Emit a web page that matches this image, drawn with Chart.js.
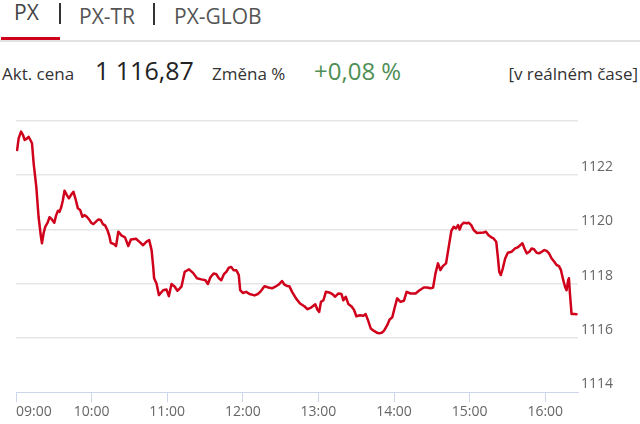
<!DOCTYPE html>
<html>
<head>
<meta charset="utf-8">
<script src="https://cdn.jsdelivr.net/npm/chart.js@4/dist/chart.umd.min.js"></script>
<style>
  html, body { margin: 0; padding: 0; background: #fff; }
  body { width: 640px; height: 424px; position: relative; overflow: hidden; font-family: "Open Sans", sans-serif; }
  .t { position: absolute; white-space: nowrap; line-height: 1; }
  .tab { font-size: 21px; color: #555; }
  .sep { position: absolute; width: 1.5px; background: #333; }
  #chartWrap { position: absolute; left: 0; top: 100px; width: 640px; height: 324px; }
</style>
</head>
<body>
  <div class="t tab" style="left:14px; top:2px; color:#444;">PX</div>
  <div class="sep" style="left:59px; top:3px; height:21px;"></div>
  <div class="t tab" style="left:79px; top:6px;">PX-TR</div>
  <div class="sep" style="left:153px; top:3px; height:22px;"></div>
  <div class="t tab" style="left:174px; top:6px;">PX-GLOB</div>
  <div style="position:absolute; left:0; top:40px; width:640px; height:1.5px; background:#e2e2e2;"></div>
  <div style="position:absolute; left:1px; top:37px; width:59px; height:3px; background:#d0021b;"></div>

  <div class="t" style="left:2px; top:65px; font-size:17px; color:#333;">Akt. cena</div>
  <div class="t" style="left:95px; top:58px; font-size:25px; color:#222;">1 116,87</div>
  <div class="t" style="left:212px; top:65px; font-size:17px; color:#333;">Změna %</div>
  <div class="t" style="left:314px; top:59px; font-size:24px; color:#4f8f55;">+0,08 %</div>
  <div class="t" style="right:2px; top:65px; font-size:17px; color:#333;">[v reálném čase]</div>

  <div id="chartWrap"><canvas id="c" width="640" height="324"></canvas></div>

<script>
// minutes since 09:00
const times = [0.9,2.1,4.0,5.6,6.9,8.8,10.0,11.4,12.7,14.0,
16.1,17.9,19.8,20.6,21.9,23.2,25.1,26.6,28.5,30.4,
31.9,33.3,34.5,35.9,37.2,38.5,40.4,42.0,43.6,45.6,
47.5,49.1,50.9,52.7,54.3,56.2,58.0,59.6,61.4,63.3,
65.4,67.3,68.9,70.7,72.5,74.1,75.2,77.8,79.4,81.2,
83.9,86.5,89.1,91.2,95.2,97.8,100.9,103.6,105.7,107.6,
108.9,109.6,111.5,113.4,116.8,119.4,121.3,123.4,126.0,128.1,
131.3,133.9,137.3,140.5,143.6,147.1,150.3,152.3,154.2,156.8,
159.0,161.0,162.9,165.0,166.9,168.9,170.8,172.6,174.8,176.8,
177.9,180.0,182.7,185.3,189.3,191.9,194.5,197.2,200.3,203.2,
205.8,208.5,211.1,213.0,215.1,216.9,219.1,222.2,225.4,228.8,
231.4,234.5,237.5,239.3,240.6,242.0,244.0,245.9,248.5,251.1,
253.3,255.9,258.3,259.8,261.7,263.8,266.5,268.3,270.1,273.0,
275.7,277.5,279.6,281.5,284.1,286.7,288.1,290.2,292.0,294.6,
296.5,298.6,300.7,302.5,305.2,307.8,310.0,313.1,317.1,319.7,
323.6,326.2,328.9,331.0,332.9,334.9,336.8,338.7,341.3,343.4,
345.5,347.3,349.2,350.8,352.1,353.4,355.3,357.9,359.2,361.3,
363.2,365.8,368.5,371.1,372.9,375.0,377.2,379.0,381.1,382.4,
383.5,384.7,386.3,388.2,390.3,393.4,396.1,398.2,400.1,401.9,
403.5,405.3,407.4,409.2,411.1,413.2,415.1,417.2,419.3,421.1,
423.0,425.1,427.2,429.0,430.9,432.5,434.3,435.7,436.9,438.3,
438.8,439.6,440.9,443.0,444.8];

const values = [1122.93,1123.36,1123.61,1123.48,1123.30,1123.36,1123.42,1123.30,1123.18,1122.44,
1121.58,1120.47,1119.73,1119.49,1119.86,1120.10,1120.25,1120.45,1120.37,1120.25,
1120.53,1120.69,1120.65,1120.82,1121.08,1121.43,1121.27,1121.15,1121.27,1121.39,
1121.08,1120.78,1120.72,1120.47,1120.53,1120.47,1120.37,1120.25,1120.20,1120.28,
1120.37,1120.35,1120.20,1120.15,1119.98,1119.76,1119.51,1119.46,1119.39,1119.92,
1119.77,1119.71,1119.39,1119.63,1119.66,1119.55,1119.42,1119.55,1119.61,1119.24,
1118.62,1118.20,1118.01,1117.58,1117.76,1117.79,1117.54,1117.99,1117.89,1117.74,
1117.89,1118.44,1118.53,1118.40,1118.20,1118.16,1118.13,1117.99,1118.23,1118.38,
1118.35,1118.20,1118.13,1118.35,1118.44,1118.59,1118.62,1118.50,1118.50,1118.32,
1117.76,1117.66,1117.70,1117.62,1117.57,1117.62,1117.74,1117.91,1117.86,1117.83,
1117.89,1117.97,1118.10,1117.97,1117.92,1117.91,1117.70,1117.46,1117.27,1117.17,
1117.06,1117.13,1117.24,1117.03,1116.96,1117.33,1117.39,1117.70,1117.68,1117.62,
1117.52,1117.64,1117.62,1117.39,1117.52,1117.25,1117.15,1117.03,1116.80,1116.84,
1116.82,1116.88,1116.62,1116.35,1116.26,1116.19,1116.17,1116.19,1116.26,1116.47,
1116.68,1116.76,1117.15,1117.46,1117.33,1117.37,1117.70,1117.64,1117.64,1117.74,
1117.86,1117.86,1117.83,1117.86,1118.38,1118.75,1118.50,1118.65,1118.75,1119.36,
1119.95,1120.10,1120.04,1120.16,1120.00,1120.16,1120.25,1120.23,1120.25,1120.16,
1119.98,1119.87,1119.88,1119.89,1119.92,1119.79,1119.71,1119.67,1119.55,1118.99,
1118.44,1118.32,1118.56,1118.93,1119.14,1119.18,1119.30,1119.34,1119.42,1119.49,
1119.30,1119.12,1119.18,1119.30,1119.27,1119.14,1119.12,1119.18,1119.24,1119.21,
1119.12,1118.93,1118.81,1118.69,1118.65,1118.50,1118.13,1117.89,1117.76,1118.16,
1118.20,1117.64,1116.88,1116.88,1116.87];

const xTickMinutes = [0, 60, 120, 180, 240, 300, 360, 420];
const xTickLabels = ['09:00','10:00','11:00','12:00','13:00','14:00','15:00','16:00'];
const xMax = 446;
const yTicks = [1114, 1116, 1118, 1120, 1122, 1124];
const yLabels = ['1114', '1116', '1118', '1120', '1122', ''];

const points = times.map((t, i) => ({ x: t, y: values[i] }));
const tickFont = { family: 'Open Sans', size: 14 };

new Chart(document.getElementById('c'), {
  type: 'line',
  data: {
    datasets: [{
      data: points,
      borderColor: '#d0021b',
      borderWidth: 2.5,
      pointRadius: 0,
      tension: 0,
      borderJoinStyle: 'round',
      borderCapStyle: 'round',
      fill: false
    }]
  },
  options: {
    responsive: false,
    animation: false,
    devicePixelRatio: 1,
    layout: { padding: { left: 16, top: 21, right: 0, bottom: 3 } },
    plugins: { legend: { display: false }, tooltip: { enabled: false } },
    scales: {
      x: {
        type: 'linear',
        min: 0,
        max: xMax,
        afterBuildTicks: (scale) => {
          scale.ticks = xTickMinutes.concat([xMax]).map(v => ({ value: v }));
        },
        ticks: {
          autoSkip: false,
          maxRotation: 0,
          align: 'inner',
          padding: 1,
          color: '#666',
          font: tickFont,
          callback: (v, i) => (i < xTickLabels.length ? xTickLabels[i] : '')
        },
        grid: {
          drawOnChartArea: false,
          drawTicks: true,
          tickLength: 10,
          tickColor: (ctx) => (ctx.index >= xTickMinutes.length ? 'rgba(0,0,0,0)' : '#ccd6eb')
        },
        border: { display: true, color: '#ccd6eb', width: 1 }
      },
      y: {
        position: 'right',
        min: yTicks[0],
        max: yTicks[yTicks.length - 1],
        afterBuildTicks: (scale) => {
          scale.ticks = yTicks.map(v => ({ value: v }));
        },
        afterFit: (scale) => { scale.width = 62; },
        ticks: {
          padding: 3,
          labelOffset: -8,
          color: '#666',
          font: tickFont,
          callback: (v, i) => yLabels[i]
        },
        grid: {
          drawTicks: false,
          color: (ctx) => (ctx.tick && ctx.tick.value === yTicks[0] ? 'rgba(0,0,0,0)' : '#e6e6e6'),
          lineWidth: 1.5
        },
        border: { display: false }
      }
    }
  }
});
</script>
</body>
</html>
